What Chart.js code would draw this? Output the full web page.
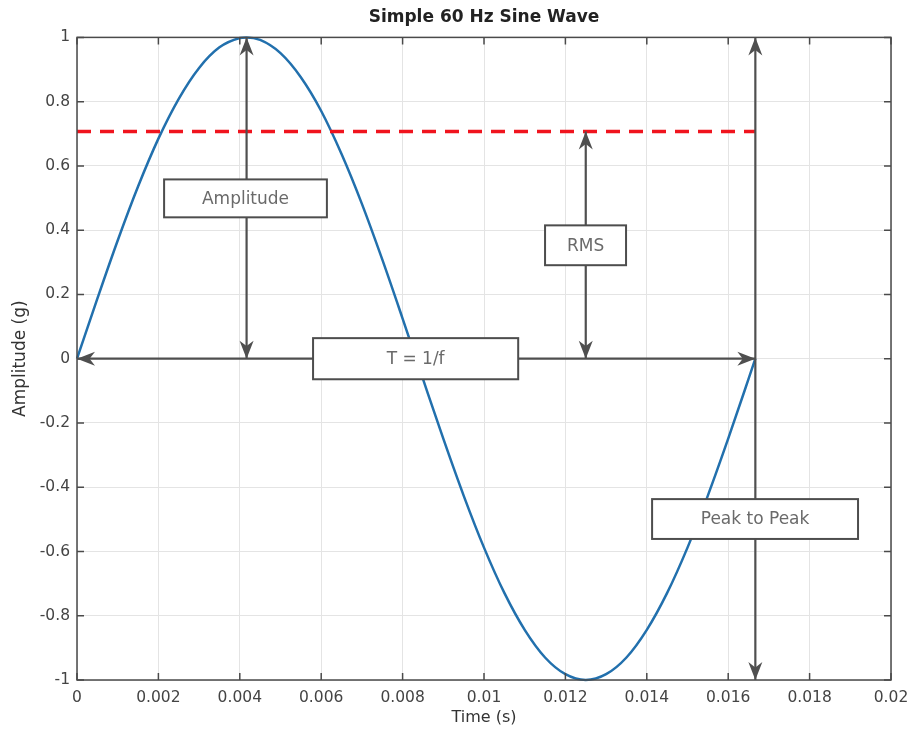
<!DOCTYPE html>
<html lang="en">
<head>
<meta charset="UTF-8">
<title>Simple 60 Hz Sine Wave</title>
<script src="https://cdn.jsdelivr.net/npm/chart.js"></script>
<style>
  body { margin: 0; background: #fff; }
</style>
</head>
<body>
<canvas id="sineChart" width="911" height="734"></canvas>
<script>
// values
const timeS = [0, 0.0005, 0.001, 0.0015, 0.002, 0.0025, 0.003, 0.0035, 0.004, 0.0041667, 0.0045,
  0.005, 0.0055, 0.006, 0.0065, 0.007, 0.0075, 0.008, 0.0085, 0.009, 0.0095, 0.01,
  0.0105, 0.011, 0.0115, 0.012, 0.0125, 0.013, 0.0135, 0.014, 0.0145, 0.015, 0.0155,
  0.016, 0.0165, 0.016667];
const amplitudeG = [0, 0.187, 0.368, 0.536, 0.685, 0.809, 0.905, 0.969, 0.998, 1.0, 0.992,
  0.951, 0.876, 0.771, 0.637, 0.482, 0.309, 0.125, -0.063, -0.249, -0.426, -0.588,
  -0.729, -0.844, -0.930, -0.982, -1.0, -0.982, -0.930, -0.844, -0.729, -0.588, -0.426,
  -0.249, -0.063, 0];
const rmsLevel = 0.7071;
const periodS = 0.016667;
const xTicks = [0, 0.002, 0.004, 0.006, 0.008, 0.01, 0.012, 0.014, 0.016, 0.018, 0.02];
const yTicks = [-1, -0.8, -0.6, -0.4, -0.2, 0, 0.2, 0.4, 0.6, 0.8, 1];

// annotation arrows and text boxes, in data units
const arrows = [
  { x1: 0.0041667, y1: 0, x2: 0.0041667, y2: 1 },
  { x1: 0.0125, y1: 0, x2: 0.0125, y2: rmsLevel },
  { x1: 0, y1: 0, x2: periodS, y2: 0 },
  { x1: periodS, y1: -1, x2: periodS, y2: 1 }
];
const boxes = [
  { text: 'Amplitude', x1: 0.00214, x2: 0.00614, y1: 0.558, y2: 0.440 },
  { text: 'RMS', x1: 0.0115, x2: 0.01349, y1: 0.415, y2: 0.291 },
  { text: 'T = 1/f', x1: 0.0058, x2: 0.01084, y1: 0.064, y2: -0.064 },
  { text: 'Peak to Peak', x1: 0.01413, x2: 0.01919, y1: -0.437, y2: -0.561 }
];

const FONT = "'DejaVu Sans', 'Liberation Sans', sans-serif";
const fmt = v => String(+v.toFixed(4));

function arrowHead(ctx, tx, ty, dx, dy) {
  const len = Math.hypot(dx, dy), ux = dx / len, uy = dy / len;
  const L = 18, W = 7;
  ctx.beginPath();
  ctx.moveTo(tx, ty);
  ctx.lineTo(tx - ux * L - uy * W, ty - uy * L + ux * W);
  ctx.lineTo(tx - ux * L * 0.7, ty - uy * L * 0.7);
  ctx.lineTo(tx - ux * L + uy * W, ty - uy * L - ux * W);
  ctx.closePath();
  ctx.fill();
}

const annotate = {
  id: 'annotate',
  afterDatasetsDraw(chart) {
    const { ctx, chartArea: a, scales: { x, y } } = chart;
    ctx.save();

    // box frame + inward ticks
    ctx.strokeStyle = '#4a4a4a';
    ctx.lineWidth = 1.5;
    ctx.strokeRect(a.left, a.top, a.right - a.left, a.bottom - a.top);
    ctx.beginPath();
    xTicks.forEach(v => {
      const px = x.getPixelForValue(v);
      ctx.moveTo(px, a.bottom); ctx.lineTo(px, a.bottom - 7);
      ctx.moveTo(px, a.top); ctx.lineTo(px, a.top + 7);
    });
    yTicks.forEach(v => {
      const py = y.getPixelForValue(v);
      ctx.moveTo(a.left, py); ctx.lineTo(a.left + 7, py);
      ctx.moveTo(a.right, py); ctx.lineTo(a.right - 7, py);
    });
    ctx.stroke();

    // double arrows
    ctx.strokeStyle = '#4f4f4f';
    ctx.fillStyle = '#4f4f4f';
    ctx.lineWidth = 2.2;
    arrows.forEach(ar => {
      const x1 = x.getPixelForValue(ar.x1), y1 = y.getPixelForValue(ar.y1);
      const x2 = x.getPixelForValue(ar.x2), y2 = y.getPixelForValue(ar.y2);
      ctx.beginPath();
      ctx.moveTo(x1, y1);
      ctx.lineTo(x2, y2);
      ctx.stroke();
      arrowHead(ctx, x2, y2, x2 - x1, y2 - y1);
      arrowHead(ctx, x1, y1, x1 - x2, y1 - y2);
    });

    // text boxes
    ctx.font = '17px ' + FONT;
    ctx.textAlign = 'center';
    ctx.textBaseline = 'middle';
    boxes.forEach(b => {
      const l = x.getPixelForValue(b.x1), r = x.getPixelForValue(b.x2);
      const t = y.getPixelForValue(b.y1), btm = y.getPixelForValue(b.y2);
      ctx.fillStyle = '#fff';
      ctx.fillRect(l, t, r - l, btm - t);
      ctx.strokeStyle = '#4d4d4d';
      ctx.lineWidth = 2;
      ctx.strokeRect(l, t, r - l, btm - t);
      ctx.fillStyle = '#6a6a6a';
      ctx.fillText(b.text, (l + r) / 2, (t + btm) / 2 + 1);
    });
    ctx.restore();
  }
};

new Chart(document.getElementById('sineChart'), {
  type: 'line',
  data: {
    datasets: [
      {
        label: 'RMS',
        data: [{ x: 0, y: rmsLevel }, { x: periodS, y: rmsLevel }],
        borderColor: '#f0141e',
        borderWidth: 3.5,
        borderDash: [14, 9],
        pointRadius: 0,
        order: 0
      },
      {
        label: 'Sine',
        data: timeS.map((t, i) => ({ x: t, y: amplitudeG[i] })),
        borderColor: '#2270ad',
        borderWidth: 2.5,
        pointRadius: 0,
        cubicInterpolationMode: 'monotone',
        clip: 5,
        order: 1
      }
    ]
  },
  options: {
    responsive: false,
    animation: false,
    layout: { padding: { left: 0, right: 20, top: 0, bottom: 0 } },
    plugins: {
      legend: { display: false },
      tooltip: { enabled: false },
      title: {
        display: true,
        fullSize: false,
        text: 'Simple 60 Hz Sine Wave',
        color: '#222',
        font: { family: FONT, size: 17, weight: 'bold' },
        padding: { top: 7, bottom: 10 }
      }
    },
    scales: {
      x: {
        type: 'linear',
        min: 0,
        max: 0.02,
        afterBuildTicks: s => { s.ticks = xTicks.map(v => ({ value: v })); },
        afterFit: s => { s.height = 54; s.paddingRight = 2; s.paddingLeft = 0; },
        ticks: { callback: fmt, color: '#444', padding: 9, maxRotation: 0, autoSkip: false, font: { family: FONT, size: 15.5 } },
        grid: { color: '#e4e4e4', drawTicks: false },
        border: { display: false },
        title: { display: true, text: 'Time (s)', color: '#333', font: { family: FONT, size: 16 }, padding: { top: 0, bottom: 7 } }
      },
      y: {
        type: 'linear',
        min: -1,
        max: 1,
        afterBuildTicks: s => { s.ticks = yTicks.map(v => ({ value: v })); },
        afterFit: s => { s.width = 77; },
        ticks: { callback: fmt, color: '#444', padding: 7, autoSkip: false, font: { family: FONT, size: 15.5 } },
        grid: { color: '#e4e4e4', drawTicks: false },
        border: { display: false },
        title: { display: true, text: 'Amplitude (g)', color: '#333', font: { family: FONT, size: 17 }, padding: { top: 10, bottom: 10 } }
      }
    }
  },
  plugins: [annotate]
});
</script>
</body>
</html>
